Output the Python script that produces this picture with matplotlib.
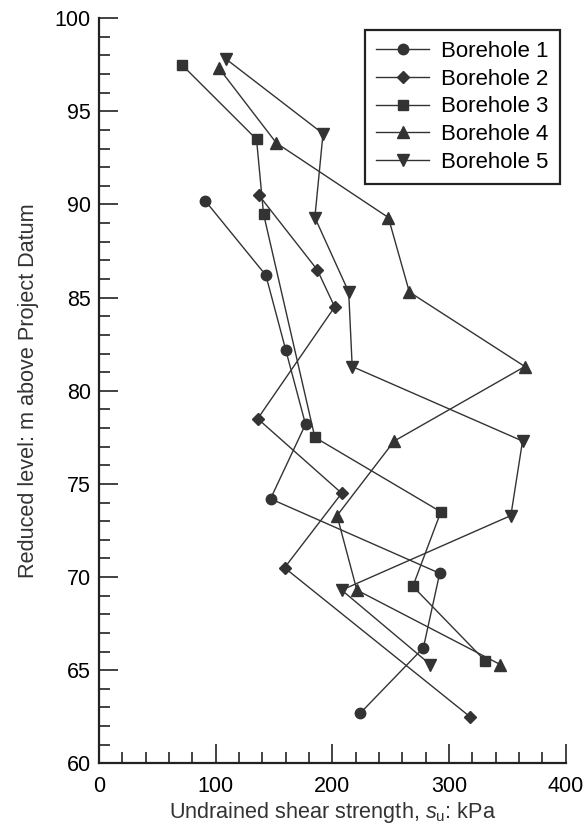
# undrained shear strength profiles
import matplotlib
matplotlib.use('Agg')
import matplotlib.pyplot as plt
from matplotlib.ticker import MultipleLocator

plt.rcParams['font.family'] = ['Liberation Sans', 'DejaVu Sans']
plt.rcParams['mathtext.fontset'] = 'custom'
plt.rcParams['mathtext.rm'] = 'Liberation Sans'
plt.rcParams['mathtext.it'] = 'Liberation Sans:italic'

bh1_su = [91, 143, 160, 177, 147, 292, 278, 224]
bh1_rl = [90.2, 86.2, 82.2, 78.2, 74.2, 70.2, 66.2, 62.7]

bh2_su = [137, 187, 202, 136, 208, 159, 318]
bh2_rl = [90.5, 86.5, 84.5, 78.5, 74.5, 70.5, 62.5]

bh3_su = [71, 135, 141, 185, 293, 269, 331]
bh3_rl = [97.5, 93.5, 89.5, 77.5, 73.5, 69.5, 65.5]

bh4_su = [103, 152, 248, 266, 365, 253, 204, 221, 344]
bh4_rl = [97.3, 93.3, 89.3, 85.3, 81.3, 77.3, 73.3, 69.3, 65.3]

bh5_su = [109, 192, 185, 214, 217, 363, 353, 208, 284]
bh5_rl = [97.8, 93.8, 89.3, 85.3, 81.3, 77.3, 73.3, 69.3, 65.3]

labels = ['Borehole 1', 'Borehole 2', 'Borehole 3', 'Borehole 4', 'Borehole 5']

c = '#333333'
fig = plt.figure(figsize=(5.87, 8.27), dpi=100)
ax = fig.add_axes([0.1687, 0.077, 0.795, 0.901])

ax.plot(bh1_su, bh1_rl, '-o', color=c, lw=1.0, ms=7.5, label=labels[0])
ax.plot(bh2_su, bh2_rl, '-D', color=c, lw=1.0, ms=6.2, label=labels[1])
ax.plot(bh3_su, bh3_rl, '-s', color=c, lw=1.0, ms=7.5, label=labels[2])
ax.plot(bh4_su, bh4_rl, '-^', color=c, lw=1.0, ms=8, label=labels[3])
ax.plot(bh5_su, bh5_rl, '-v', color=c, lw=1.0, ms=8, label=labels[4])

ax.set_xlim(0, 400)
ax.set_ylim(60, 100)
ax.xaxis.set_major_locator(MultipleLocator(100))
ax.xaxis.set_minor_locator(MultipleLocator(20))
ax.yaxis.set_major_locator(MultipleLocator(5))
ax.yaxis.set_minor_locator(MultipleLocator(1))
ax.tick_params(which='major', direction='in', length=14, width=1.2, labelsize=15.5, color='#222222', pad=6)
ax.tick_params(axis='x', which='major', pad=9)
ax.tick_params(which='minor', direction='in', length=8, width=1.2, color='#222222')
ax.spines['top'].set_visible(False)
ax.spines['right'].set_visible(False)
for s in ['left', 'bottom']:
    ax.spines[s].set_linewidth(1.6)
    ax.spines[s].set_color('#222222')

ax.set_xlabel(r'Undrained shear strength, $s_\mathregular{u}$: kPa', fontsize=15.6, color='#333333', labelpad=2)
ax.set_ylabel('Reduced level: m above Project Datum', fontsize=15.6, color='#333333', labelpad=11)

leg = ax.legend(loc='upper right', bbox_to_anchor=(560 / 587, 1 - 30 / 827), bbox_transform=fig.transFigure,
                borderaxespad=0, fontsize=16, fancybox=False,
                edgecolor='#222222', framealpha=1, handlelength=2.4, labelspacing=0.3,
                borderpad=0.5, handletextpad=0.55)
leg.get_frame().set_linewidth(1.6)

fig.savefig('out.png', dpi=100)
